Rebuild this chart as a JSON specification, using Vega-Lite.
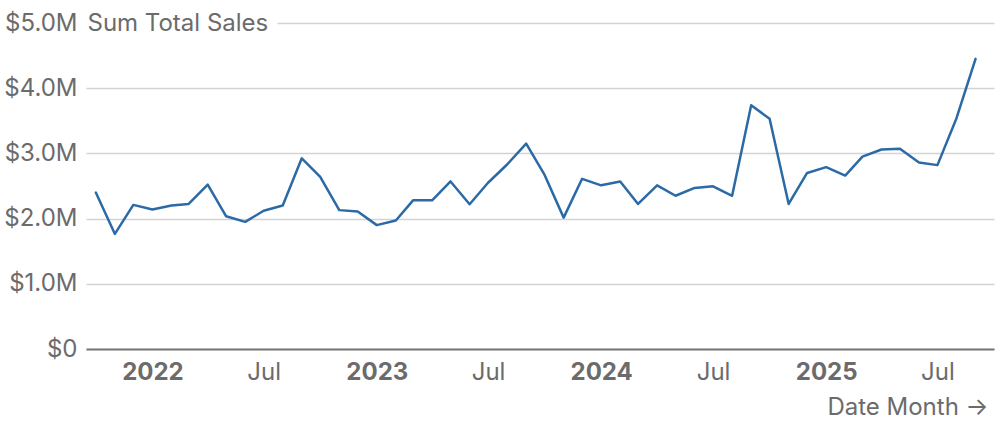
{
  "$schema": "https://vega.github.io/schema/vega-lite/v6.json",
  "width": 908,
  "height": 326,
  "autosize": "none",
  "padding": {"left": 86, "top": 23, "right": 6, "bottom": 81},
  "background": "white",
  "config": {
    "view": {"stroke": null},
    "font": "Inter"
  },
  "data": {
    "values": [
      {"month": "2021-10-01", "sales": 2400000},
      {"month": "2021-11-01", "sales": 1765000},
      {"month": "2021-12-01", "sales": 2210000},
      {"month": "2022-01-01", "sales": 2140000},
      {"month": "2022-02-01", "sales": 2200000},
      {"month": "2022-03-01", "sales": 2225000},
      {"month": "2022-04-01", "sales": 2520000},
      {"month": "2022-05-01", "sales": 2035000},
      {"month": "2022-06-01", "sales": 1950000},
      {"month": "2022-07-01", "sales": 2120000},
      {"month": "2022-08-01", "sales": 2200000},
      {"month": "2022-09-01", "sales": 2925000},
      {"month": "2022-10-01", "sales": 2640000},
      {"month": "2022-11-01", "sales": 2130000},
      {"month": "2022-12-01", "sales": 2110000},
      {"month": "2023-01-01", "sales": 1900000},
      {"month": "2023-02-01", "sales": 1970000},
      {"month": "2023-03-01", "sales": 2280000},
      {"month": "2023-04-01", "sales": 2280000},
      {"month": "2023-05-01", "sales": 2570000},
      {"month": "2023-06-01", "sales": 2220000},
      {"month": "2023-07-01", "sales": 2550000},
      {"month": "2023-08-01", "sales": 2830000},
      {"month": "2023-09-01", "sales": 3150000},
      {"month": "2023-10-01", "sales": 2670000},
      {"month": "2023-11-01", "sales": 2015000},
      {"month": "2023-12-01", "sales": 2610000},
      {"month": "2024-01-01", "sales": 2510000},
      {"month": "2024-02-01", "sales": 2570000},
      {"month": "2024-03-01", "sales": 2225000},
      {"month": "2024-04-01", "sales": 2510000},
      {"month": "2024-05-01", "sales": 2350000},
      {"month": "2024-06-01", "sales": 2470000},
      {"month": "2024-07-01", "sales": 2495000},
      {"month": "2024-08-01", "sales": 2350000},
      {"month": "2024-09-01", "sales": 3740000},
      {"month": "2024-10-01", "sales": 3530000},
      {"month": "2024-11-01", "sales": 2225000},
      {"month": "2024-12-01", "sales": 2700000},
      {"month": "2025-01-01", "sales": 2790000},
      {"month": "2025-02-01", "sales": 2660000},
      {"month": "2025-03-01", "sales": 2950000},
      {"month": "2025-04-01", "sales": 3060000},
      {"month": "2025-05-01", "sales": 3070000},
      {"month": "2025-06-01", "sales": 2860000},
      {"month": "2025-07-01", "sales": 2820000},
      {"month": "2025-08-01", "sales": 3540000},
      {"month": "2025-09-01", "sales": 4450000}
    ]
  },
  "mark": {"type": "line", "color": "#2c6aa6", "strokeWidth": 2.5, "strokeJoin": "round", "strokeCap": "round"},
  "encoding": {
    "x": {
      "field": "month",
      "type": "temporal",
      "scale": {
        "type": "utc",
        "domain": [
          {"year": 2021, "month": 9, "date": 15, "utc": true},
          {"year": 2025, "month": 10, "date": 1, "utc": true}
        ]
      },
      "axis": {
        "zindex": 1,
        "values": [
          {"year": 2022, "month": 1, "date": 1, "utc": true},
          {"year": 2022, "month": 7, "date": 1, "utc": true},
          {"year": 2023, "month": 1, "date": 1, "utc": true},
          {"year": 2023, "month": 7, "date": 1, "utc": true},
          {"year": 2024, "month": 1, "date": 1, "utc": true},
          {"year": 2024, "month": 7, "date": 1, "utc": true},
          {"year": 2025, "month": 1, "date": 1, "utc": true},
          {"year": 2025, "month": 7, "date": 1, "utc": true}
        ],
        "labelExpr": "utcmonth(datum.value) == 0 ? utcFormat(datum.value, '%Y') : utcFormat(datum.value, '%b')",
        "labelFontWeight": {"condition": {"test": "utcmonth(datum.value) == 0", "value": "bold"}, "value": "normal"},
        "labelFontSize": 24,
        "labelColor": "#6b6b6b",
        "labelBaseline": "middle",
        "labelPadding": 23,
        "labelFlush": false,
        "labelOverlap": false,
        "ticks": false,
        "tickSize": 0,
        "grid": false,
        "domain": true,
        "domainColor": "#777777",
        "domainWidth": 2,
        "title": "Date Month →",
        "titleFontSize": 24,
        "titleFontWeight": "normal",
        "titleColor": "#6b6b6b",
        "titleAnchor": "end",
        "titleAlign": "right",
        "titleBaseline": "middle",
        "titleX": 902,
        "titleY": 58
      }
    },
    "y": {
      "field": "sales",
      "type": "quantitative",
      "scale": {"domain": [0, 5000000], "nice": false, "zero": true},
      "axis": {
        "values": [0, 1000000, 2000000, 3000000, 4000000, 5000000],
        "labelExpr": "datum.value == 0 ? '$0' : '$' + format(datum.value / 1000000, '.1f') + 'M'",
        "labelFontSize": 24,
        "labelColor": "#6b6b6b",
        "labelPadding": 9,
        "ticks": false,
        "tickSize": 0,
        "domain": false,
        "grid": true,
        "gridColor": "#d3d3d3",
        "gridWidth": 1.5,
        "gridDash": {"condition": {"test": "datum.value == 5000000", "value": [0, 191, 2000, 0]}, "value": []},
        "title": "Sum Total Sales",
        "titleFontSize": 24,
        "titleFontWeight": "normal",
        "titleColor": "#6b6b6b",
        "titleAngle": 0,
        "titleAlign": "left",
        "titleBaseline": "middle",
        "titleX": 1,
        "titleY": 0
      }
    }
  }
}
